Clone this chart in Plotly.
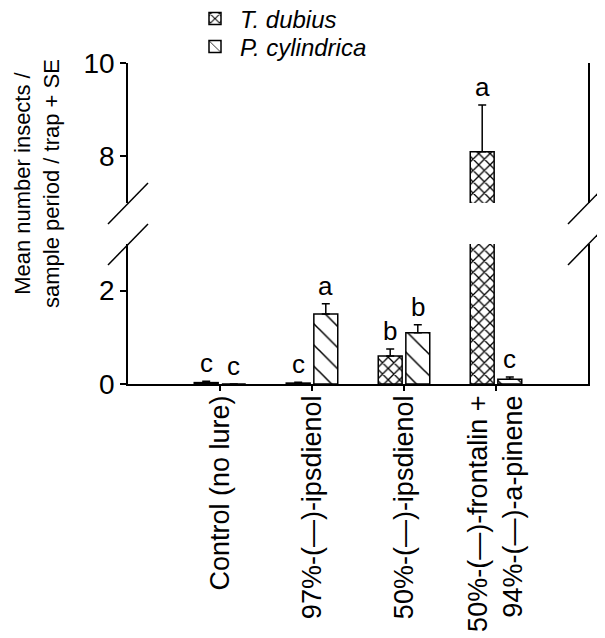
import plotly.graph_objects as go

categories = ["Control (no lure)", "97%-(—)-ipsdienol", "50%-(—)-ipsdienol",
              "50%-(—)-frontalin +<br>94%-(—)-a-pinene"]
series_names = ["<i>T. dubius</i>", "<i>P. cylindrica</i>"]
t_dubius = [0.03, 0.02, 0.6, 8.1]
t_dubius_se = [0.03, 0.02, 0.15, 1.0]
p_cyl = [0.0, 1.5, 1.1, 0.1]
p_cyl_se = [0.0, 0.22, 0.17, 0.05]
t_letters = ["c", "c", "b", "a"]
p_letters = ["c", "a", "b", "c"]
y_low_ticks = [0, 2]
y_high_ticks = [8, 10]
y_low_range = [0, 3]
y_high_range = [7, 10]

FONT = "Liberation Sans, Arial, Helvetica, sans-serif"
OFF = 8  # default page body margin
W, H = 605 - OFF, 638 - OFF
ML, MT = 128 - OFF, 63 - OFF
PW, PH = 460, 321
MR, MB = W - ML - PW, H - MT - PH
low_dom = [0, 140 / PH]
high_dom = [181 / PH, 1]

xpos = list(range(1, len(categories) + 1))
BW = 0.26
OFF_T, OFF_P = -0.28, 0.02


def px(xs):
    return (xs - OFF - ML) / PW


def py(ys):
    return (OFF + MT + PH - ys) / PH


fig = go.Figure()
specs = [
    (series_names[0], t_dubius, t_dubius_se, OFF_T, dict(shape="x", size=8, solidity=0.3), "legend"),
    (series_names[1], p_cyl, p_cyl_se, OFF_P, dict(shape="\\", size=15, solidity=0.1), "legend2"),
]
for name, vals, se, off, pat, leg in specs:
    for yax, show in (("y", True), ("y2", False)):
        fig.add_trace(go.Bar(
            x=xpos, y=vals, name=name, yaxis=yax, xaxis="x",
            width=BW, offset=off, showlegend=show, legend=leg,
            marker=dict(color="white", line=dict(color="black", width=1.5),
                        pattern=dict(fgcolor="black", bgcolor="white", fillmode="replace", **pat)),
            error_y=dict(type="data", array=se, arrayminus=[0] * len(se), symmetric=False,
                         color="black", thickness=1.5, width=4),
        ))

annotations = []
for vals, se, letters, off in ((t_dubius, t_dubius_se, t_letters, OFF_T),
                               (p_cyl, p_cyl_se, p_letters, OFF_P)):
    for xi, v, s, l in zip(xpos, vals, se, letters):
        top = v + s
        yref = "y2" if top > y_low_range[1] else "y"
        annotations.append(dict(x=xi + off + BW / 2, y=top, xref="x", yref=yref, text=l,
                                showarrow=False, yanchor="bottom", yshift=1,
                                font=dict(size=26, family=FONT, color="black")))

annotations.append(dict(x=px(37), y=py(184), xref="paper", yref="paper",
                        text="Mean number insects /<br>sample period / trap + SE",
                        textangle=-90, showarrow=False, xanchor="center", yanchor="middle",
                        font=dict(size=22, family=FONT, color="black")))

shapes = []
for ax in (OFF + ML, OFF + ML + PW):
    for yc in (203.5, 244.5):
        shapes.append(dict(type="line", xref="paper", yref="paper",
                           x0=px(ax - 20), y0=py(yc + 20.5), x1=px(ax + 20), y1=py(yc - 20.5),
                           line=dict(color="black", width=1.5)))

axis_common = dict(showline=True, linecolor="black", linewidth=1.5, ticks="outside",
                   ticklen=6, tickwidth=1.5, tickcolor="black", showgrid=False, zeroline=False,
                   mirror=True, tickfont=dict(size=28, family=FONT, color="black"))

legend_common = dict(xanchor="left", yanchor="middle", bgcolor="rgba(0,0,0,0)",
                     font=dict(size=24, family=FONT, color="black"), itemwidth=40)

fig.update_layout(
    width=W, height=H,
    margin=dict(l=ML, r=MR, t=MT, b=MB, pad=0, autoexpand=False),
    paper_bgcolor="white", plot_bgcolor="white",
    font=dict(family=FONT, color="black"),
    xaxis=dict(range=[0, len(categories) + 1], tickvals=xpos, ticktext=categories,
               tickangle=-90, showline=True, linecolor="black", linewidth=1.5,
               ticks="outside", ticklen=5, tickwidth=1.5, tickcolor="black",
               showgrid=False, zeroline=False, anchor="y", ticklabelstandoff=-6,
               tickfont=dict(size=27, family=FONT, color="black")),
    yaxis=dict(domain=low_dom, range=y_low_range, tickvals=y_low_ticks, anchor="x", **axis_common),
    yaxis2=dict(domain=high_dom, range=y_high_range, tickvals=y_high_ticks, anchor="x", **axis_common),
    legend=dict(x=px(190), y=py(19), **legend_common),
    legend2=dict(x=px(190), y=py(47), **legend_common),
    annotations=annotations, shapes=shapes, showlegend=True,
)

fig.write_html("out.html")
